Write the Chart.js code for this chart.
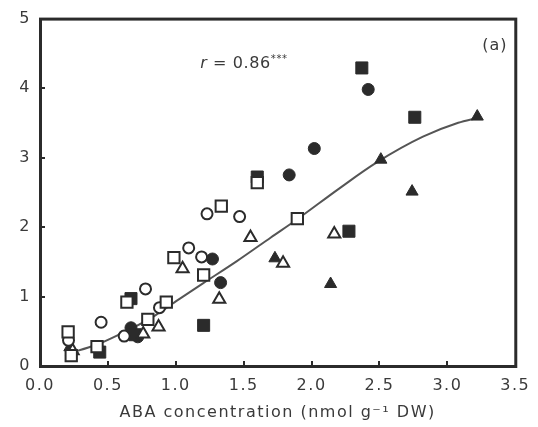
<!DOCTYPE html>
<html>
<head>
<meta charset="utf-8">
<script src="https://cdn.jsdelivr.net/npm/chart.js@4/dist/chart.umd.min.js"></script>
<style>
  html, body { margin: 0; padding: 0; background: #fff; }
  #wrap { width: 538px; height: 427px; }
</style>
</head>
<body>
<div id="wrap"><canvas id="abaChart" width="538" height="427"></canvas></div>
<script>
// значения (x = ABA, y = ось ординат)
const filledSquares = [[2.37, 4.29], [2.76, 3.58], [1.6, 2.72], [2.275, 1.94], [1.205, 0.585], [0.67, 0.97], [0.44, 0.2], [0.7, 0.45]];
const filledCircles = [[2.417, 3.98], [2.02, 3.13], [1.835, 2.75], [1.27, 1.54], [1.33, 1.2], [0.67, 0.55], [0.72, 0.42]];
const filledTriangles = [[3.22, 3.59], [2.51, 2.97], [2.74, 2.51], [2.14, 1.18], [1.73, 1.55], [0.68, 0.48], [0.22, 0.27]];
const openSquares = [[1.335, 2.3], [0.986, 1.56], [1.205, 1.31], [1.6, 2.64], [1.895, 2.12], [0.207, 0.49], [0.42, 0.28], [0.794, 0.67], [0.64, 0.92], [0.23, 0.15], [0.93, 0.92]];
const openCircles = [[1.23, 2.19], [1.47, 2.15], [1.095, 1.7], [1.19, 1.57], [0.777, 1.11], [0.45, 0.63], [0.21, 0.37], [0.62, 0.43], [0.88, 0.84]];
const openTriangles = [[1.55, 1.85], [1.05, 1.4], [1.32, 0.96], [2.167, 1.9], [1.79, 1.48], [0.873, 0.56], [0.76, 0.46], [0.24, 0.22]];

const fitCurve = [[0.21, 0.18], [0.42, 0.31], [0.6, 0.47], [0.8, 0.67], [1.0, 0.93], [1.2, 1.19], [1.45, 1.51], [1.7, 1.85], [1.9, 2.12], [2.2, 2.55], [2.48, 2.93], [2.82, 3.3], [3.08, 3.5], [3.22, 3.57]];

const xTicks = [0, 0.5, 1.0, 1.5, 2.0, 2.5, 3.0, 3.5];
const yTicks = [0, 1, 2, 3, 4, 5];
const xTitle = 'ABA concentration (nmol g\u207B\u00B9 DW)';
const statLabel = { r: 'r', rest: ' = 0.86', stars: '***' };
const panelLabel = '(a)';

const ink = '#2b2b2b';
const textInk = '#3a3a3a';
const fontFamily = '"DejaVu Sans", "Liberation Sans", sans-serif';
const spacing = '1.5px';

const toPts = arr => arr.map(([x, y]) => ({ x, y }));

function markerSet(label, data, style, filled, radius) {
    return {
        type: 'scatter',
        label: label,
        data: toPts(data),
        pointStyle: style,
        pointRadius: radius,
        pointHoverRadius: radius,
        pointBackgroundColor: filled ? ink : '#ffffff',
        pointBorderColor: ink,
        pointBorderWidth: filled ? 1 : 2
    };
}

// разрядка букв, как в оригинале (шрифт там растянут по ширине)
const spacingPlugin = {
    id: 'spacing',
    beforeDraw(chart) {
        chart.ctx.letterSpacing = spacing;
    }
};

// рамка, внутренние засечки и подписи на поле графика
const framePlugin = {
    id: 'frame',
    afterDatasetsDraw(chart) {
        const { ctx, chartArea: a, scales: { x, y } } = chart;
        ctx.save();
        ctx.strokeStyle = ink;
        ctx.lineWidth = 3;
        ctx.strokeRect(a.left + 0.5, a.top + 0.5, a.right - a.left, a.bottom - a.top);

        ctx.lineWidth = 2;
        ctx.beginPath();
        xTicks.slice(1, -1).forEach(v => {
            const px = Math.round(x.getPixelForValue(v));
            ctx.moveTo(px, a.bottom);
            ctx.lineTo(px, a.bottom - 5);
        });
        yTicks.slice(1, -1).forEach(v => {
            const py = Math.round(y.getPixelForValue(v));
            ctx.moveTo(a.left, py);
            ctx.lineTo(a.left + 5, py);
        });
        ctx.stroke();

        ctx.letterSpacing = '0.6px';
        ctx.fillStyle = textInk;
        ctx.textBaseline = 'alphabetic';
        let tx = x.getPixelForValue(1.18);
        const ty = y.getPixelForValue(4.37) + 6;
        ctx.font = 'italic 16px ' + fontFamily;
        ctx.fillText(statLabel.r, tx, ty);
        tx += ctx.measureText(statLabel.r).width;
        ctx.font = '16px ' + fontFamily;
        ctx.fillText(statLabel.rest, tx, ty);
        tx += ctx.measureText(statLabel.rest).width;
        ctx.font = '10px ' + fontFamily;
        ctx.fillText(statLabel.stars, tx, ty - 6);

        ctx.letterSpacing = '1px';
        ctx.font = '16px ' + fontFamily;
        ctx.textAlign = 'center';
        ctx.textBaseline = 'middle';
        ctx.fillText(panelLabel, x.getPixelForValue(3.35), y.getPixelForValue(4.61));
        ctx.restore();
    }
};

const ctx = document.getElementById('abaChart').getContext('2d');
new Chart(ctx, {
    data: {
        datasets: [
            markerSet('open square', openSquares, 'rect', false, 8),
            markerSet('open circle', openCircles, 'circle', false, 5.5),
            markerSet('open triangle', openTriangles, 'triangle', false, 7),
            markerSet('filled square', filledSquares, 'rect', true, 8.5),
            markerSet('filled circle', filledCircles, 'circle', true, 6),
            markerSet('filled triangle', filledTriangles, 'triangle', true, 7),
            {
                type: 'line',
                label: 'fit',
                data: toPts(fitCurve),
                borderColor: '#555',
                borderWidth: 2,
                pointRadius: 0,
                fill: false,
                cubicInterpolationMode: 'monotone'
            }
        ]
    },
    options: {
        responsive: false,
        animation: false,
        layout: { padding: { left: 0, right: 13, top: 16, bottom: 0 } },
        plugins: {
            legend: { display: false },
            tooltip: { enabled: false }
        },
        scales: {
            x: {
                type: 'linear',
                min: 0,
                max: 3.5,
                afterFit: s => { s.height = 61; },
                afterBuildTicks: s => { s.ticks = xTicks.map(v => ({ value: v })); },
                grid: { display: false, drawTicks: false },
                border: { display: false },
                ticks: {
                    padding: 10,
                    color: textInk,
                    font: { family: fontFamily, size: 16 },
                    callback: v => v.toFixed(1),
                    maxRotation: 0
                },
                title: {
                    display: true,
                    text: xTitle,
                    color: textInk,
                    font: { family: fontFamily, size: 16 },
                    padding: { top: 0, bottom: 5 }
                }
            },
            y: {
                type: 'linear',
                min: 0,
                max: 5,
                afterFit: s => { s.width = 40; },
                afterBuildTicks: s => { s.ticks = yTicks.map(v => ({ value: v })); },
                grid: { display: false, drawTicks: false },
                border: { display: false },
                ticks: {
                    padding: 9,
                    color: textInk,
                    font: { family: fontFamily, size: 16 }
                }
            }
        }
    },
    plugins: [spacingPlugin, framePlugin]
});
</script>
</body>
</html>
